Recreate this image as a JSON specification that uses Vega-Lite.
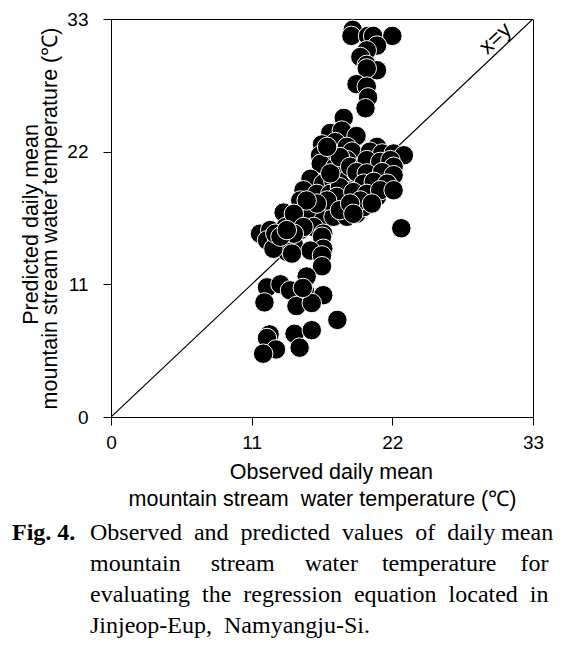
{
  "$schema": "https://vega.github.io/schema/vega-lite/v6.json",
  "width": 422,
  "height": 398,
  "autosize": "none",
  "padding": {"left": 111, "top": 19, "right": 31, "bottom": 240},
  "background": "white",
  "config": {
    "view": {"stroke": "black", "strokeWidth": 1},
    "font": "Liberation Sans",
    "axis": {
      "grid": false,
      "domainColor": "black",
      "tickColor": "black",
      "tickSize": 8,
      "labelFlush": false,
      "labelFont": "Liberation Sans",
      "labelFontSize": 19,
      "labelColor": "black",
      "titleFont": "Liberation Sans",
      "titleFontSize": 21.5,
      "titleFontWeight": "normal",
      "titleColor": "black"
    }
  },
  "title": {
    "text": "Fig. 4.",
    "subtitle": [
      "\u200b\u00a0\u00a0\u00a0\u00a0\u00a0\u00a0\u00a0\u00a0\u00a0\u00a0\u00a0\u00a0\u00a0Observed\u00a0\u00a0and\u00a0\u00a0predicted\u00a0\u00a0values\u00a0\u00a0of\u00a0\u00a0daily\u00a0mean",
      "\u200b\u00a0\u00a0\u00a0\u00a0\u00a0\u00a0\u00a0\u00a0\u00a0\u00a0\u00a0\u00a0\u00a0mountain\u00a0\u00a0\u00a0\u00a0\u00a0stream\u00a0\u00a0\u00a0\u00a0\u00a0water\u00a0\u00a0\u00a0\u00a0temperature\u00a0\u00a0\u00a0\u00a0for",
      "\u200b\u00a0\u00a0\u00a0\u00a0\u00a0\u00a0\u00a0\u00a0\u00a0\u00a0\u00a0\u00a0\u00a0evaluating\u00a0\u00a0the\u00a0\u00a0regression\u00a0\u00a0equation\u00a0\u00a0located\u00a0\u00a0in",
      "\u200b\u00a0\u00a0\u00a0\u00a0\u00a0\u00a0\u00a0\u00a0\u00a0\u00a0\u00a0\u00a0\u00a0Jinjeop-Eup,\u00a0\u00a0Namyangju-Si."
    ],
    "orient": "bottom",
    "anchor": "start",
    "frame": "group",
    "dx": -99,
    "offset": 11,
    "font": "Liberation Serif",
    "fontSize": 24,
    "fontWeight": "bold",
    "color": "black",
    "subtitleFont": "Liberation Serif",
    "subtitleFontSize": 24,
    "subtitleColor": "black",
    "subtitleLineHeight": 31,
    "subtitlePadding": -24
  },
  "datasets": {
    "diag": [{"obs": 0, "pred": 0}, {"obs": 33, "pred": 33}],
    "lab": [{"obs": 30.05, "pred": 31.4, "label": "x=y"}],
    "pts": [
      {"obs": 18.9, "pred": 32.1}, {"obs": 18.8, "pred": 31.6}, {"obs": 20.1, "pred": 31.6}, {"obs": 20.5, "pred": 31.6}, {"obs": 22.0, "pred": 31.6},
      {"obs": 20.8, "pred": 30.8}, {"obs": 20.0, "pred": 30.4}, {"obs": 19.5, "pred": 29.85}, {"obs": 20.0, "pred": 29.2}, {"obs": 20.8, "pred": 28.75},
      {"obs": 20.0, "pred": 28.9}, {"obs": 19.2, "pred": 27.6}, {"obs": 20.0, "pred": 27.4}, {"obs": 20.1, "pred": 26.5}, {"obs": 19.9, "pred": 25.6},
      {"obs": 18.2, "pred": 24.8}, {"obs": 17.15, "pred": 23.55}, {"obs": 18.05, "pred": 23.75}, {"obs": 19.2, "pred": 23.3}, {"obs": 16.5, "pred": 22.6},
      {"obs": 17.55, "pred": 22.8}, {"obs": 18.45, "pred": 22.4}, {"obs": 18.85, "pred": 22.0}, {"obs": 16.35, "pred": 21.7}, {"obs": 17.4, "pred": 21.55},
      {"obs": 18.45, "pred": 21.3}, {"obs": 16.4, "pred": 21.0}, {"obs": 17.55, "pred": 20.75}, {"obs": 18.2, "pred": 20.45}, {"obs": 15.6, "pred": 19.75},
      {"obs": 16.6, "pred": 19.35}, {"obs": 17.4, "pred": 19.5}, {"obs": 18.45, "pred": 19.65}, {"obs": 19.2, "pred": 20.2}, {"obs": 15.05, "pred": 18.8},
      {"obs": 16.1, "pred": 18.5}, {"obs": 17.15, "pred": 18.5}, {"obs": 18.2, "pred": 18.8}, {"obs": 18.95, "pred": 18.8}, {"obs": 14.8, "pred": 17.95},
      {"obs": 15.45, "pred": 17.4}, {"obs": 16.5, "pred": 17.15}, {"obs": 17.4, "pred": 17.7}, {"obs": 18.45, "pred": 17.4}, {"obs": 19.2, "pred": 16.85},
      {"obs": 13.5, "pred": 16.95}, {"obs": 14.55, "pred": 16.3}, {"obs": 15.6, "pred": 16.6}, {"obs": 16.6, "pred": 16.3}, {"obs": 17.4, "pred": 16.6},
      {"obs": 18.45, "pred": 16.6}, {"obs": 11.65, "pred": 15.2}, {"obs": 12.45, "pred": 15.5}, {"obs": 13.65, "pred": 15.75}, {"obs": 14.8, "pred": 15.5},
      {"obs": 15.85, "pred": 15.75}, {"obs": 16.6, "pred": 15.2}, {"obs": 12.2, "pred": 14.65}, {"obs": 13.0, "pred": 14.65}, {"obs": 14.0, "pred": 15.05},
      {"obs": 14.3, "pred": 14.25}, {"obs": 13.35, "pred": 14.1}, {"obs": 13.75, "pred": 13.7}, {"obs": 16.5, "pred": 14.95}, {"obs": 16.6, "pred": 13.95},
      {"obs": 15.6, "pred": 13.8}, {"obs": 16.5, "pred": 13.4}, {"obs": 16.5, "pred": 12.5}, {"obs": 14.15, "pred": 13.55}, {"obs": 12.7, "pred": 13.95},
      {"obs": 12.85, "pred": 15.2},
      {"obs": 17.9, "pred": 19.05}, {"obs": 17.65, "pred": 18.25}, {"obs": 16.9, "pred": 17.95}, {"obs": 17.9, "pred": 17.15}, {"obs": 16.1, "pred": 17.7},
      {"obs": 15.3, "pred": 17.95}, {"obs": 14.3, "pred": 16.85}, {"obs": 15.05, "pred": 15.75}, {"obs": 14.3, "pred": 15.2}, {"obs": 13.25, "pred": 14.95},
      {"obs": 13.75, "pred": 15.5}, {"obs": 17.15, "pred": 20.2}, {"obs": 17.9, "pred": 21.55}, {"obs": 16.9, "pred": 22.4}, {"obs": 18.7, "pred": 20.75},
      {"obs": 19.75, "pred": 20.75}, {"obs": 20.55, "pred": 21.45}, {"obs": 21.3, "pred": 20.85}, {"obs": 21.6, "pred": 19.9}, {"obs": 20.8, "pred": 18.25},
      {"obs": 19.75, "pred": 17.4}, {"obs": 21.3, "pred": 19.6}, {"obs": 18.95, "pred": 17.95},
      {"obs": 20.8, "pred": 22.4}, {"obs": 20.25, "pred": 22.0}, {"obs": 21.2, "pred": 21.85}, {"obs": 22.1, "pred": 21.85}, {"obs": 22.9, "pred": 21.7},
      {"obs": 20.0, "pred": 21.3}, {"obs": 21.05, "pred": 21.15}, {"obs": 21.85, "pred": 21.3}, {"obs": 22.1, "pred": 20.75}, {"obs": 19.2, "pred": 20.3},
      {"obs": 20.0, "pred": 20.2}, {"obs": 21.2, "pred": 20.3}, {"obs": 22.1, "pred": 20.05}, {"obs": 19.75, "pred": 19.35}, {"obs": 20.55, "pred": 19.5},
      {"obs": 21.6, "pred": 19.35}, {"obs": 18.95, "pred": 18.65}, {"obs": 20.0, "pred": 18.5}, {"obs": 21.05, "pred": 18.8}, {"obs": 22.1, "pred": 18.8},
      {"obs": 19.5, "pred": 17.95}, {"obs": 20.4, "pred": 17.7}, {"obs": 18.7, "pred": 17.7}, {"obs": 18.95, "pred": 16.85}, {"obs": 22.7, "pred": 15.65},
      {"obs": 15.3, "pred": 11.65}, {"obs": 12.2, "pred": 10.75}, {"obs": 13.25, "pred": 11.0}, {"obs": 14.0, "pred": 10.5}, {"obs": 15.2, "pred": 10.35},
      {"obs": 16.6, "pred": 10.1}, {"obs": 12.0, "pred": 9.5}, {"obs": 14.5, "pred": 9.2}, {"obs": 15.7, "pred": 9.45}, {"obs": 17.7, "pred": 8.05},
      {"obs": 12.4, "pred": 6.85}, {"obs": 12.2, "pred": 6.55}, {"obs": 14.35, "pred": 6.9}, {"obs": 15.7, "pred": 7.2}, {"obs": 12.9, "pred": 5.6},
      {"obs": 14.75, "pred": 5.75}, {"obs": 11.9, "pred": 5.25}, {"obs": 15.0, "pred": 10.7}
    ]
  },
  "encoding": {
    "x": {
      "field": "obs", "type": "quantitative",
      "scale": {"domain": [0, 33], "nice": false, "zero": false},
      "axis": {
        "values": [0, 11, 22, 33],
        "labelPadding": 8,
        "titlePadding": 9,
        "titleLineHeight": 27,
        "title": ["\u200b\u00a0\u00a0\u00a0Observed daily mean", "mountain stream\u00a0 water temperature (℃)"]
      }
    },
    "y": {
      "field": "pred", "type": "quantitative",
      "scale": {"domain": [0, 33], "nice": false, "zero": false},
      "axis": {
        "values": [0, 11, 22, 33],
        "labelPadding": 15,
        "titlePadding": 5,
        "titleLineHeight": 19,
        "title": ["Predicted daily mean\u00a0\u00a0\u200b", "mountain stream water temperature (℃)"]
      }
    }
  },
  "layer": [
    {
      "data": {"name": "diag"},
      "mark": {"type": "line", "color": "black", "strokeWidth": 1.2, "clip": true},
      "encoding": {}
    },
    {
      "data": {"name": "pts"},
      "mark": {"type": "circle", "size": 380, "fill": "black", "stroke": "white", "strokeWidth": 1, "opacity": 1}
    },
    {
      "data": {"name": "lab"},
      "mark": {"type": "text", "angle": -43, "fontSize": 22, "font": "Liberation Sans", "color": "black"},
      "encoding": {"text": {"field": "label"}}
    }
  ]
}
